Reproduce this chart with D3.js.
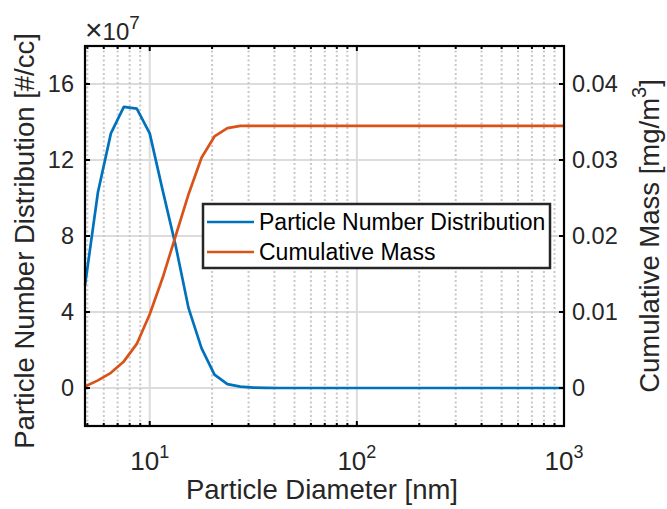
<!DOCTYPE html>
<html><head><meta charset="utf-8">
<script src="https://cdn.jsdelivr.net/npm/d3@7"></script>
<style>body{margin:0;background:#fff}svg{display:block}text{font-family:"Liberation Sans",Arial,sans-serif}</style>
</head><body><svg id="c" width="667" height="509"></svg>
<script>
const diameters = [4.870,5.623,6.494,7.499,8.660,10.0,11.548,13.335,15.399,17.783,20.535,23.714,27.384,31.623,36.517,42.170,48.697,56.234,64.938,74.989,86.596,100,115.48,133.35,153.99,177.83,205.35,237.14,273.84,316.23,365.17,421.70,486.97,562.34,649.38,749.89,865.96,1000];
const numberDist = [5.4,10.3,13.4,14.8,14.7,13.4,10.4,7.5,4.2,2.1,0.7,0.2,0.07,0.02,0.01,0,0,0,0,0,0,0,0,0,0,0,0,0,0,0,0,0,0,0,0,0,0,0];
const cumMass = [0.0002,0.0010,0.0020,0.0035,0.0058,0.0097,0.0145,0.0200,0.0255,0.0303,0.0331,0.0342,0.0345,0.0345,0.0345,0.0345,0.0345,0.0345,0.0345,0.0345,0.0345,0.0345,0.0345,0.0345,0.0345,0.0345,0.0345,0.0345,0.0345,0.0345,0.0345,0.0345,0.0345,0.0345,0.0345,0.0345,0.0345,0.0345];
const leftTicks = [0,4,8,12,16];
const rightTicks = [0,0.01,0.02,0.03,0.04];
const xMajor = [10,100,1000];
const xMinor = [5,6,7,8,9,20,30,40,50,60,70,80,90,200,300,400,500,600,700,800,900];
const legendLabels = ["Particle Number Distribution","Cumulative Mass"];
const colors = ["#0072BD","#D95319"];

const L=85,R=564,T=46,B=426;
const svg=d3.select("#c");
const x=d3.scaleLog().domain([diameters[0],1000]).range([L,R]);
const yL=d3.scaleLinear().domain([-2,18]).range([B,T]);
const yR=d3.scaleLinear().domain([-0.005,0.045]).range([B,T]);
const TF=23.5, LF=27.5, TXT="#262626";

// grid
const g=svg.append("g");
g.selectAll(".hg").data(leftTicks).join("line").attr("x1",L).attr("x2",R)
 .attr("y1",d=>yL(d)).attr("y2",d=>yL(d)).attr("stroke","#dcdcdc").attr("stroke-width",2);
g.selectAll(".vg").data(xMajor.filter(d=>d<1000)).join("line").attr("y1",T).attr("y2",B)
 .attr("x1",d=>x(d)).attr("x2",d=>x(d)).attr("stroke","#dcdcdc").attr("stroke-width",2);
g.selectAll(".vm").data(xMinor).join("line").attr("y1",T).attr("y2",B)
 .attr("x1",d=>x(d)).attr("x2",d=>x(d)).attr("stroke","#c8c8c8").attr("stroke-width",2).attr("stroke-dasharray","2,2.5");

// lines
const line1=d3.line().x((d,i)=>x(diameters[i])).y(d=>yL(d));
const line2=d3.line().x((d,i)=>x(diameters[i])).y(d=>yR(d));
svg.append("path").attr("d",line1(numberDist)).attr("fill","none").attr("stroke",colors[0]).attr("stroke-width",2.7).attr("stroke-linejoin","round");
svg.append("path").attr("d",line2(cumMass)).attr("fill","none").attr("stroke",colors[1]).attr("stroke-width",2.7).attr("stroke-linejoin","round");

// axes frame
svg.append("rect").attr("x",L).attr("y",T).attr("width",R-L).attr("height",B-T).attr("fill","none").attr("stroke","#000").attr("stroke-width",2.2);

// ticks
const tk=svg.append("g").attr("stroke","#000").attr("stroke-width",2);
tk.selectAll(".lt").data(leftTicks).join("line").attr("x1",L).attr("x2",L+5).attr("y1",d=>yL(d)).attr("y2",d=>yL(d));
tk.selectAll(".rt").data(rightTicks).join("line").attr("x1",R-5).attr("x2",R).attr("y1",d=>yR(d)).attr("y2",d=>yR(d));
tk.selectAll(".bt").data(xMajor).join("line").attr("x1",d=>x(d)).attr("x2",d=>x(d)).attr("y1",B).attr("y2",B-5);
tk.selectAll(".tt").data(xMajor).join("line").attr("x1",d=>x(d)).attr("x2",d=>x(d)).attr("y1",T).attr("y2",T+5);
tk.selectAll(".bm").data(xMinor).join("line").attr("x1",d=>x(d)).attr("x2",d=>x(d)).attr("y1",B).attr("y2",B-3);
tk.selectAll(".tm").data(xMinor).join("line").attr("x1",d=>x(d)).attr("x2",d=>x(d)).attr("y1",T).attr("y2",T+3);

// tick labels
svg.selectAll(".ll").data(leftTicks).join("text").attr("x",L-11).attr("y",d=>yL(d)).attr("dy","0.36em")
 .attr("text-anchor","end").attr("font-size",TF).attr("fill",TXT).text(d=>d);
svg.selectAll(".rl").data(rightTicks).join("text").attr("x",R+8).attr("y",d=>yR(d)).attr("dy","0.36em")
 .attr("text-anchor","start").attr("font-size",TF).attr("fill",TXT).text(d=>d===0?"0":d3.format(".2f")(d));
const xl=svg.selectAll(".xl").data(xMajor).join("text").attr("x",d=>x(d)).attr("y",470)
 .attr("text-anchor","middle").attr("font-size",26).attr("fill",TXT);
xl.append("tspan").text("10");
xl.append("tspan").attr("font-size",18).attr("dy",-12).text(d=>Math.round(Math.log10(d)));

// exponent
const ex=svg.append("text").attr("x",85).attr("y",40).attr("fill",TXT);
ex.append("tspan").attr("font-size",30).text("×");
ex.append("tspan").attr("font-size",24).text("10");
ex.append("tspan").attr("font-size",19).attr("dy",-11).text("7");

// axis labels
svg.append("text").attr("transform","translate(34,241) rotate(-90)").attr("text-anchor","middle")
 .attr("font-size",LF).attr("fill",TXT).text("Particle Number Distribution [#/cc]");
const rl=svg.append("text").attr("transform","translate(659,236) rotate(-90)").attr("text-anchor","middle")
 .attr("font-size",LF).attr("fill",TXT);
rl.append("tspan").text("Cumulative Mass [mg/m");
rl.append("tspan").attr("font-size",20).attr("dy",-13).text("3");
rl.append("tspan").attr("dy",13).text("]");
svg.append("text").attr("x",322).attr("y",499).attr("text-anchor","middle")
 .attr("font-size",LF).attr("fill",TXT).text("Particle Diameter [nm]");

// legend
const lg=svg.append("g");
lg.append("rect").attr("x",203).attr("y",204).attr("width",347).attr("height",64).attr("fill","#fff").attr("stroke","#262626").attr("stroke-width",2.5);
lg.selectAll(".ls").data(legendLabels).join("line").attr("x1",207).attr("x2",254)
 .attr("y1",(d,i)=>222+i*30).attr("y2",(d,i)=>222+i*30).attr("stroke",(d,i)=>colors[i]).attr("stroke-width",2.7);
lg.selectAll(".lt2").data(legendLabels).join("text").attr("x",259).attr("y",(d,i)=>222+i*30).attr("dy","0.36em")
 .attr("font-size",23).attr("fill","#000").text(d=>d);
</script></body></html>
